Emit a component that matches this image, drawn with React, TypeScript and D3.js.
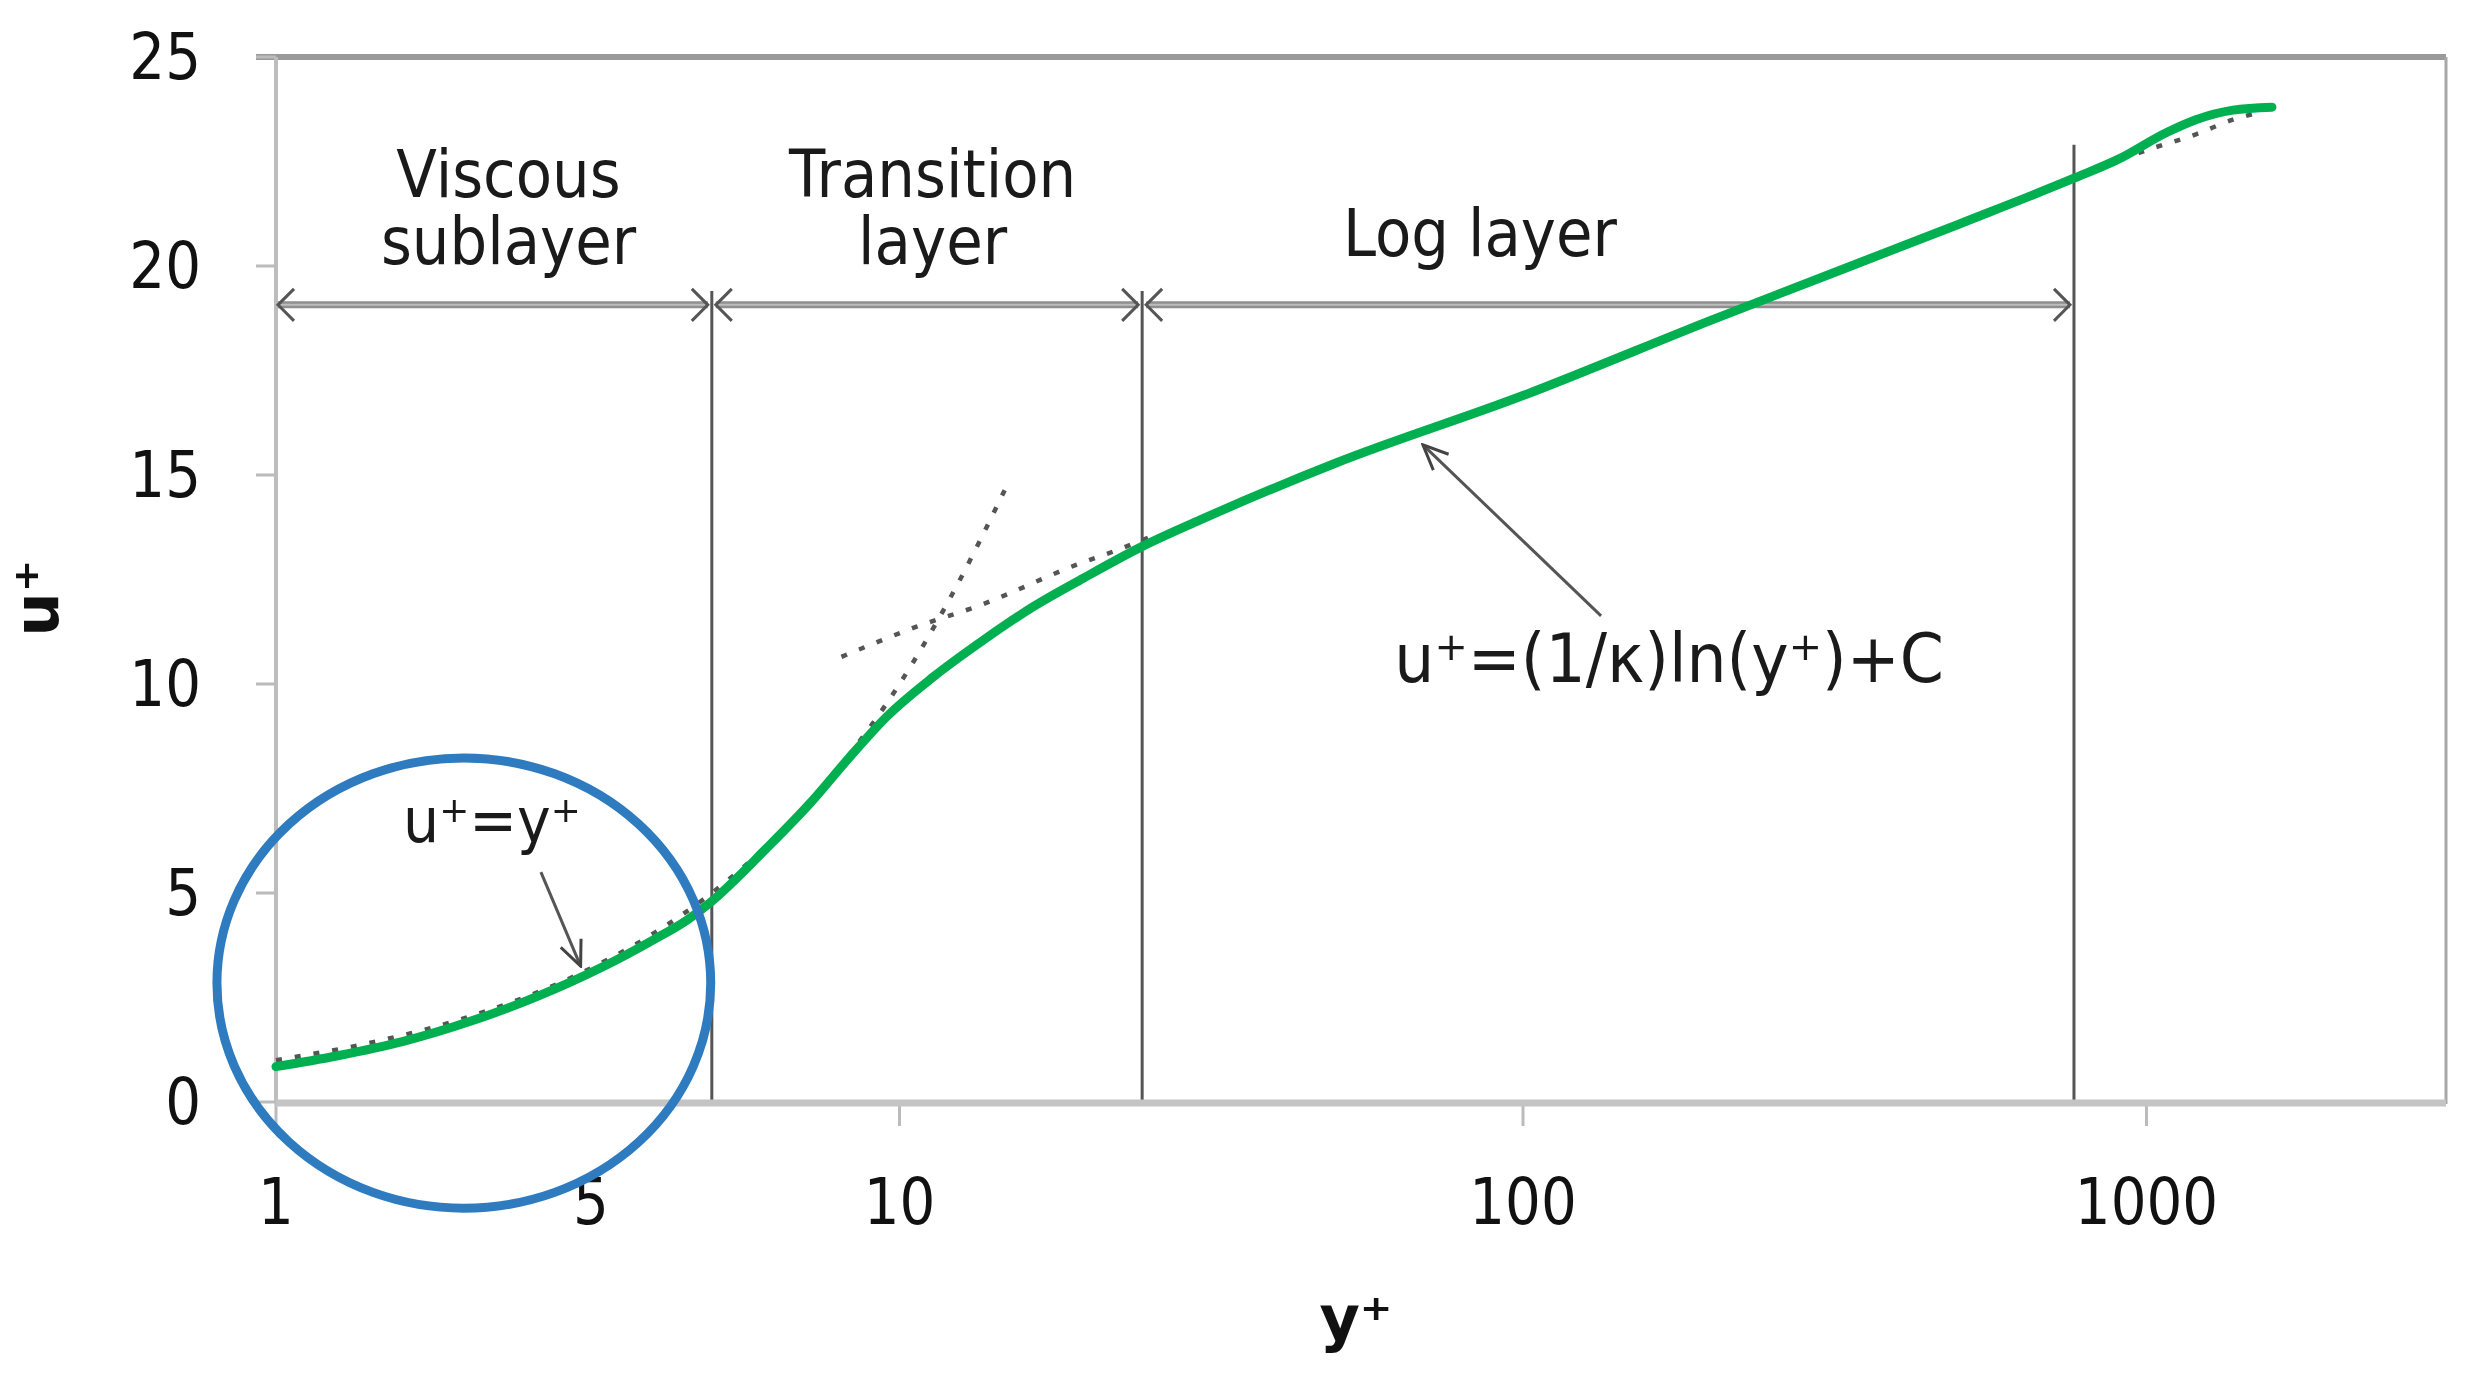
import React from "react";
import * as d3 from "d3";

// ---- data ----
const greenYPlus = [1, 1.25, 1.6, 2.05, 2.62, 3.35, 4.03, 4.56, 4.95, 6.12, 7.19, 8.33, 9.54, 11.33, 13.63, 16.39, 19.71, 24.43, 30.3, 50, 100, 200, 500, 765, 900, 1079, 1200, 1376, 1589];
const greenU = [0.845, 1.1, 1.45, 1.93, 2.52, 3.24, 3.88, 4.35, 4.75, 6.07, 7.15, 8.26, 9.22, 10.17, 11.05, 11.85, 12.53, 13.28, 13.92, 15.28, 16.9, 18.7, 21.0, 22.1, 22.55, 23.2, 23.5, 23.73, 23.8];

const viscYPlus = [1, 1.5, 2, 3, 4, 5, 6, 8, 10, 12, 15.04];
const viscU = [1, 1.5, 2, 3, 4, 5, 6, 8, 10, 12, 14.9];

const logLowYPlus = [8.07, 10.65, 13.5, 19.2, 22.3, 26];
const logLowU = [10.65, 11.37, 11.89, 12.85, 13.2, 13.6];
const logHighYPlus = [850, 1000, 1200, 1376, 1503];
const logHighU = [22.4, 22.77, 23.15, 23.5, 23.66];

const yTicks = [0, 5, 10, 15, 20, 25];
const xTicks = [1, 10, 100, 1000];
const xTickLabels = ["1", "10", "100", "1000"];
const extraXLabel = { value: 3.2, text: "5" };

const boundaries = [5, 24.5, 765];
const boundaryTops = [19.4, 19.4, 22.9];
const arrowLevel = 19.07;
const layerSpans = [[1, 5], [5, 24.5], [24.5, 765]];

const layerLabels = [
  { x: 2.36, u: 21.65, text: "Viscous" },
  { x: 2.36, u: 20.05, text: "sublayer" },
  { x: 11.3, u: 21.65, text: "Transition" },
  { x: 11.3, u: 20.05, text: "layer" },
  { x: 85.3, u: 20.24, text: "Log layer" },
];

const annotations = [
  { text: "u\u207A=y\u207A", x: 2.22, u: 6.22, size: 62, sx: 0.92, from: [2.66, 5.5], to: [3.08, 3.25] },
  { text: "u\u207A=(1/\u03BA)ln(y\u207A)+C", x: 171.5, u: 10.05, size: 68, sx: 0.93, from: [133.4, 11.63], to: [69.1, 15.72] },
];

const ellipseBounds = { left: 0.804, right: 4.98, top: 8.23, bottom: -2.54 };

const W = 2466;
const H = 1383;
const FONT = "'DejaVu Sans', Verdana, sans-serif";

export default function App() {
  const x = d3.scaleLog().domain([1, 3000]).range([276, 2444]);
  const y = d3.scaleLinear().domain([0, 25]).range([1102, 57]);

  const line = d3
    .line<[number, number]>()
    .x((d) => x(d[0]))
    .y((d) => y(d[1]))
    .curve(d3.curveMonotoneX);

  const pairs = (a: number[], b: number[]) => a.map((v, i) => [v, b[i]] as [number, number]);
  const green = line(pairs(greenYPlus, greenU)) || "";
  const visc = line(pairs(viscYPlus, viscU)) || "";
  const logLow = line(pairs(logLowYPlus, logLowU)) || "";
  const logHigh = line(pairs(logHighYPlus, logHighU)) || "";

  const x0 = x(1);
  const x1 = x(3000) + 2;
  const yTop = y(25);
  const yBot = y(0);

  const ecx = (x(ellipseBounds.left) + x(ellipseBounds.right)) / 2;
  const ecy = (y(ellipseBounds.top) + y(ellipseBounds.bottom)) / 2;
  const erx = (x(ellipseBounds.right) - x(ellipseBounds.left)) / 2;
  const ery = (y(ellipseBounds.bottom) - y(ellipseBounds.top)) / 2;

  const chevron = (px: number, py: number, dir: number) =>
    `M${px - dir * 16},${py - 16} L${px},${py} L${px - dir * 16},${py + 16}`;

  return (
    <svg width={W} height={H} style={{ position: "absolute", left: 0, top: 0, background: "#fff" }}>
      <defs>
        <marker id="ah" viewBox="0 0 30 30" refX="28" refY="15" markerWidth="30" markerHeight="30" orient="auto" markerUnits="userSpaceOnUse">
          <path d="M3,4 L28,15 L3,26" fill="none" stroke="#444" strokeWidth={3} strokeLinejoin="miter" />
        </marker>
      </defs>
      <rect x={0} y={0} width={W} height={H} fill="#fff" />

      {/* frame */}
      <line x1={x0 - 20} x2={x1} y1={yTop} y2={yTop} stroke="#9a9a9a" strokeWidth={6} />
      <line x1={x1} x2={x1} y1={yTop} y2={yBot + 2} stroke="#a8a8a8" strokeWidth={3} />
      <line x1={x0} x2={x0} y1={yTop} y2={yBot} stroke="#bdbdbd" strokeWidth={4} />

      {/* y ticks */}
      {yTicks.map((t) => (
        <g key={"yt" + t}>
          <line x1={x0 - 20} x2={x0} y1={y(t)} y2={y(t)} stroke="#bbb" strokeWidth={3} />
          <text
            transform={`translate(201,${y(t)}) scale(0.88,1)`}
            textAnchor="end"
            dominantBaseline="central"
            fontFamily={FONT}
            fontSize={64}
            fill="#111"
          >
            {t}
          </text>
        </g>
      ))}

      {/* x ticks */}
      {xTicks.map((t, i) => (
        <g key={"xt" + t}>
          <line x1={x(t)} x2={x(t)} y1={yBot} y2={yBot + 24} stroke="#bbb" strokeWidth={3} />
          <text
            transform={`translate(${x(t)},1224) scale(0.88,1)`}
            textAnchor="middle"
            fontFamily={FONT}
            fontSize={64}
            fill="#111"
          >
            {xTickLabels[i]}
          </text>
        </g>
      ))}
      <text
        transform={`translate(${x(extraXLabel.value)},1224) scale(0.88,1)`}
        textAnchor="middle"
        fontFamily={FONT}
        fontSize={64}
        fill="#111"
      >
        {extraXLabel.text}
      </text>

      {/* boundary lines */}
      {boundaries.map((b, i) => (
        <line key={"b" + b} x1={x(b)} x2={x(b)} y1={y(boundaryTops[i])} y2={yBot} stroke="#555" strokeWidth={3} />
      ))}

      {/* double arrows */}
      {layerSpans.map(([a, b], i) => {
        const xa = x(a) + (i === 0 ? 2 : 4);
        const xb = x(b) - 4;
        const py = y(arrowLevel);
        return (
          <g key={"ar" + i}>
            <line x1={xa} x2={xb} y1={py} y2={py} stroke="#8f8f8f" strokeWidth={7} />
            <line x1={xa} x2={xb} y1={py} y2={py} stroke="#bdbdbd" strokeWidth={2} />
            <path d={chevron(xa, py, -1)} fill="none" stroke="#555" strokeWidth={3} />
            <path d={chevron(xb, py, 1)} fill="none" stroke="#555" strokeWidth={3} />
          </g>
        );
      })}

      {/* bottom axis on top of boundaries */}
      <line x1={x0} x2={x1} y1={yBot + 1} y2={yBot + 1} stroke="#c4c4c4" strokeWidth={7} />

      {/* layer labels */}
      {layerLabels.map((l) => (
        <text
          key={l.text}
          transform={`translate(${x(l.x)},${y(l.u)}) scale(0.9,1)`}
          textAnchor="middle"
          fontFamily={FONT}
          fontSize={66}
          fill="#1a1a1a"
        >
          {l.text}
        </text>
      ))}

      {/* reference dotted lines */}
      <path d={visc} fill="none" stroke="#555" strokeWidth={4.5} strokeDasharray="6,13" />
      <path d={logLow} fill="none" stroke="#555" strokeWidth={4.5} strokeDasharray="6,13" />
      <path d={logHigh} fill="none" stroke="#555" strokeWidth={4.5} strokeDasharray="6,13" />

      {/* main curve */}
      <path d={green} fill="none" stroke="#00b050" strokeWidth={9} strokeLinecap="round" strokeLinejoin="round" />

      {/* annotations */}
      {annotations.map((a) => (
        <g key={a.text}>
          <line
            x1={x(a.from[0])}
            y1={y(a.from[1])}
            x2={x(a.to[0])}
            y2={y(a.to[1])}
            stroke="#555"
            strokeWidth={3}
            markerEnd="url(#ah)"
          />
          <text
            transform={`translate(${x(a.x)},${y(a.u)}) scale(${a.sx},1)`}
            textAnchor="middle"
            fontFamily={FONT}
            fontSize={a.size}
            fill="#1a1a1a"
          >
            {a.text}
          </text>
        </g>
      ))}

      {/* blue ellipse */}
      <ellipse cx={ecx} cy={ecy} rx={erx} ry={ery} fill="none" stroke="#2f7bbf" strokeWidth={9} />

      {/* axis titles */}
      <text
        transform={`translate(58,598) rotate(-90)`}
        textAnchor="middle"
        fontFamily={FONT}
        fontSize={62}
        fontWeight="bold"
        fill="#111"
      >
        u{"\u207A"}
      </text>
      <text
        x={1356}
        y={1340}
        textAnchor="middle"
        fontFamily={FONT}
        fontSize={62}
        fontWeight="bold"
        fill="#111"
      >
        y{"\u207A"}
      </text>
    </svg>
  );
}
